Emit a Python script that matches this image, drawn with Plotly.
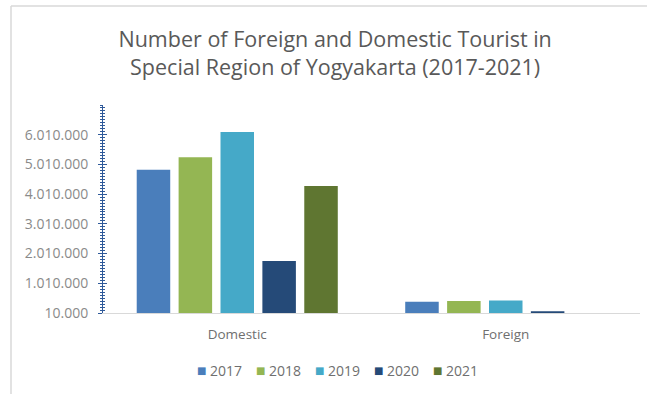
import plotly.graph_objects as go

# Tourist counts per category and year
categories = ["Domestic", "Foreign"]
years = ["2017", "2018", "2019", "2020", "2021"]
domestic = [4830000, 5250000, 6100000, 1760000, 4280000]
foreign = [390000, 410000, 430000, 70000, 5000]
colors = ["#4a7ebb", "#94b653", "#45a9c8", "#254a78", "#5f7631"]

axis_min = 10000
axis_max = 7010000
tick_vals = [10000 + k * 1000000 for k in range(7)]

W, H = 647, 394
ML, MR, MT, MB = 103, 7, 105, 81
pw = W - ML - MR
ph = H - MT - MB


def px_x(px):
    return (px - ML) / pw


def px_y(py):
    return (MT + ph - py) / ph


fig = go.Figure()
for i, yr in enumerate(years):
    fig.add_trace(go.Bar(
        name=yr, x=categories, y=[domestic[i], foreign[i]],
        marker=dict(color=colors[i], line=dict(width=0)),
        showlegend=False,
    ))

# invisible trace that carries the mirrored tick axis
fig.add_trace(go.Scatter(x=categories, y=[axis_min, axis_min], yaxis="y2",
                         mode="markers", marker=dict(opacity=0),
                         showlegend=False, hoverinfo="skip"))

tick_color = "#2f5a9a"
fig.update_layout(
    width=W, height=H,
    margin=dict(l=ML, r=MR, t=MT, b=MB, autoexpand=False),
    paper_bgcolor="white", plot_bgcolor="white",
    separators=",.",
    barmode="group", bargap=0.22, bargroupgap=0.2,
    title=dict(
        text="Number of Foreign and Domestic Tourist in<br>Special Region of Yogyakarta (2017-2021)",
        x=0.518, xanchor="center", y=1 - 47 / H, yanchor="top",
        font=dict(family="Open Sans", size=21.5, color="#595959"),
    ),
    font=dict(family="Open Sans", color="#7f7f7f", size=12),
    xaxis=dict(
        showline=True, linecolor="#d9d9d9", linewidth=1,
        ticks="", showgrid=False, tickfont=dict(size=13.5, color="#6f6f6f"),
        ticklabelstandoff=9,
    ),
    yaxis=dict(
        range=[axis_min, axis_max], tickvals=tick_vals, tickformat=",d",
        showgrid=False, zeroline=False,
        showline=True, linecolor=tick_color, linewidth=1,
        ticks="outside", ticklen=4, tickcolor=tick_color, tickwidth=1,
        minor=dict(dtick=100000, tick0=10000, ticks="outside", ticklen=2,
                   tickcolor=tick_color),
        tickfont=dict(size=14, color="#8a8a8a"),
        ticklabelstandoff=7,
    ),
    yaxis2=dict(
        range=[axis_min, axis_max], overlaying="y", side="left",
        tickvals=tick_vals, showticklabels=False, showgrid=False,
        zeroline=False, showline=False,
        ticks="inside", ticklen=4, tickcolor=tick_color, tickwidth=1,
        minor=dict(dtick=100000, tick0=10000, ticks="inside", ticklen=2,
                   tickcolor=tick_color),
    ),
    showlegend=False,
)

# compact legend row: coloured square followed by the year
legend_x0, legend_pitch, legend_y = 201, 59, 370
for i, yr in enumerate(years):
    cx = legend_x0 + legend_pitch * i
    fig.add_annotation(xref="paper", yref="paper", x=px_x(cx), y=px_y(legend_y),
                       text="■", showarrow=False, xanchor="center", yanchor="middle",
                       font=dict(size=10, color=colors[i], family="DejaVu Sans"))
    fig.add_annotation(xref="paper", yref="paper", x=px_x(cx + 7), y=px_y(legend_y),
                       text=yr, showarrow=False, xanchor="left", yanchor="middle",
                       font=dict(size=14, color="#6f6f6f", family="Open Sans"))

# light chart frame along the top and left edges
fx = px_x(11)
fy = px_y(6)
fig.add_shape(type="line", xref="paper", yref="paper", x0=fx, x1=fx, y0=fy, y1=-2,
              line=dict(color="#d9d9d9", width=1.5))
fig.add_shape(type="line", xref="paper", yref="paper", x0=fx, x1=2, y0=fy, y1=fy,
              line=dict(color="#d9d9d9", width=1.5))

fig.write_html("out.html")
